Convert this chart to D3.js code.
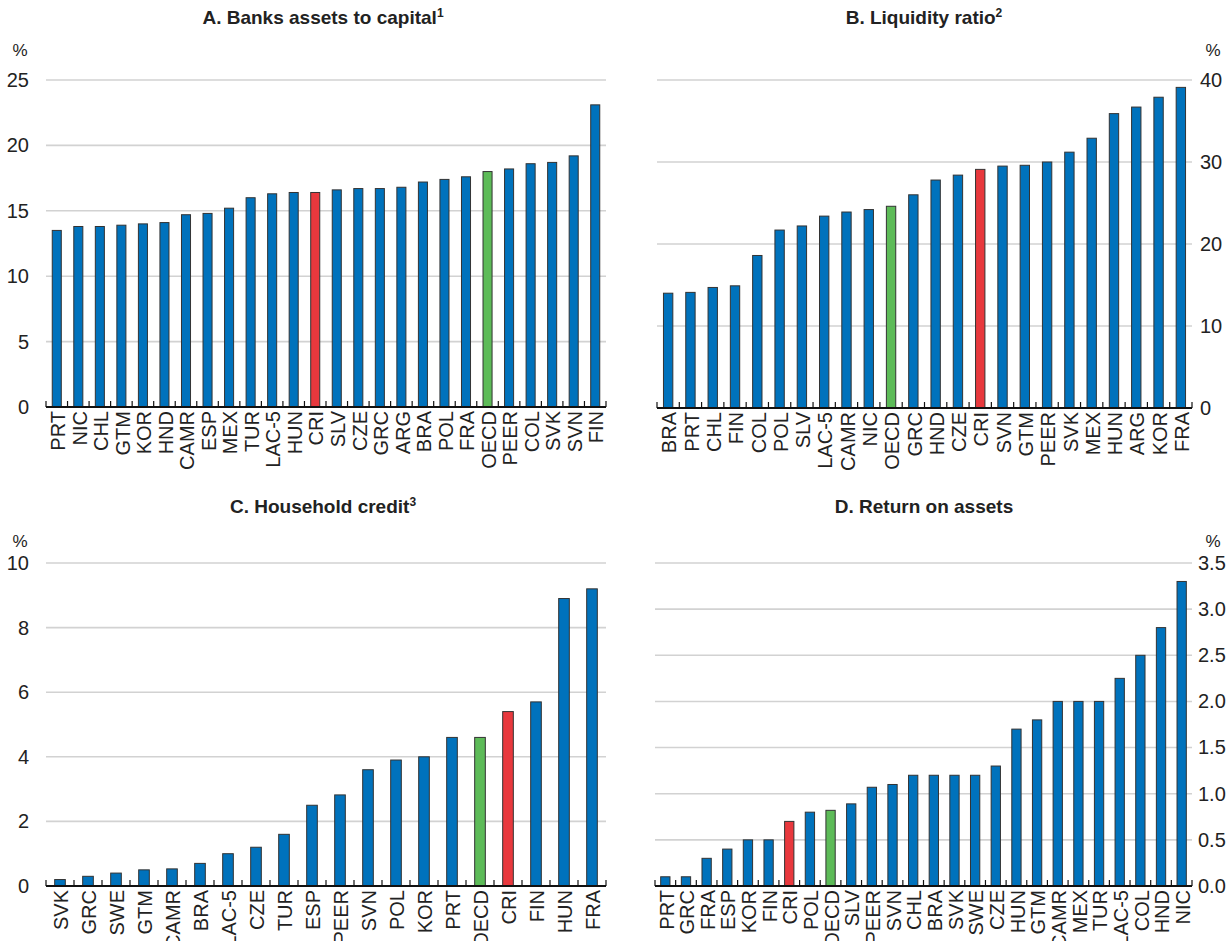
<!DOCTYPE html>
<html><head><meta charset="utf-8">
<script src="https://cdn.jsdelivr.net/npm/d3@7"></script>
<style>
body{margin:0;background:#fff}
svg{display:block}
text{font-family:"Liberation Sans Narrow","Arial Narrow","Liberation Sans",sans-serif;fill:#222}
</style>
</head><body>
<svg id="c" width="1229" height="941"></svg>
<script>
const catsA = ["PRT","NIC","CHL","GTM","KOR","HND","CAMR","ESP","MEX","TUR","LAC-5","HUN","CRI","SLV","CZE","GRC","ARG","BRA","POL","FRA","OECD","PEER","COL","SVK","SVN","FIN"];
const valsA = [13.5,13.8,13.8,13.9,14.0,14.1,14.7,14.8,15.2,16.0,16.3,16.4,16.4,16.6,16.7,16.7,16.8,17.2,17.4,17.6,18.0,18.2,18.6,18.7,19.2,23.1];
const ticksA = [0,5,10,15,20,25];

const catsB = ["BRA","PRT","CHL","FIN","COL","POL","SLV","LAC-5","CAMR","NIC","OECD","GRC","HND","CZE","CRI","SVN","GTM","PEER","SVK","MEX","HUN","ARG","KOR","FRA"];
const valsB = [14.0,14.1,14.7,14.9,18.6,21.7,22.2,23.4,23.9,24.2,24.6,26.0,27.8,28.4,29.1,29.5,29.6,30.0,31.2,32.9,35.9,36.7,37.9,39.1];
const ticksB = [0,10,20,30,40];

const catsC = ["SVK","GRC","SWE","GTM","CAMR","BRA","LAC-5","CZE","TUR","ESP","PEER","SVN","POL","KOR","PRT","OECD","CRI","FIN","HUN","FRA"];
const valsC = [0.2,0.3,0.4,0.5,0.53,0.7,1.0,1.2,1.6,2.5,2.82,3.6,3.9,4.0,4.6,4.6,5.4,5.7,8.9,9.2];
const ticksC = [0,2,4,6,8,10];

const catsD = ["PRT","GRC","FRA","ESP","KOR","FIN","CRI","POL","OECD","SLV","PEER","SVN","CHL","BRA","SVK","SWE","CZE","HUN","GTM","CAMR","MEX","TUR","LAC-5","COL","HND","NIC"];
const valsD = [0.1,0.1,0.3,0.4,0.5,0.5,0.7,0.8,0.82,0.89,1.07,1.1,1.2,1.2,1.2,1.2,1.3,1.7,1.8,2.0,2.0,2.0,2.25,2.5,2.8,3.3];
const ticksD = [0,0.5,1,1.5,2,2.5,3,3.5];

const BLUE = "#0072bc", RED = "#e8383d", GREEN = "#5dbb58";
const colorOf = c => c === "CRI" ? RED : (c === "OECD" ? GREEN : BLUE);

const svg = d3.select("#c");

function panel(o){
  const g = svg.append("g");
  const data = o.cats.map((c,i)=>({c, v:o.vals[i]}));
  const x = d3.scaleBand().domain(o.cats).range([o.x0,o.x1]).paddingInner(o.pad).paddingOuter(o.pad/2);
  const y = d3.scaleLinear().domain([0,o.max]).range([o.y0,o.y1]);

  const t = g.append("text").attr("x",o.tx).attr("y",o.ty).attr("text-anchor","middle")
    .style("font-size","19px").style("font-weight","bold");
  t.append("tspan").text(o.title);
  if(o.sup) t.append("tspan").text(o.sup).attr("dy","-7").style("font-size","12px");

  g.selectAll("line.grid").data(o.ticks.filter(d=>d>0)).join("line")
    .attr("x1",o.x0).attr("x2",o.x1).attr("y1",d=>y(d)).attr("y2",d=>y(d))
    .attr("stroke","#d2d2d2").attr("stroke-width",1.6);

  const ax = (o.right ? d3.axisRight(y) : d3.axisLeft(y)).tickValues(o.ticks).tickFormat(o.fmt).tickSize(0).tickPadding(0);
  const ag = g.append("g").attr("transform",`translate(${o.lx},0)`).call(ax);
  ag.select(".domain").remove();
  ag.selectAll("text").style("font-size","20px").style("font-family",'"Liberation Sans Narrow","Arial Narrow",sans-serif').attr("fill","#222");

  g.append("text").attr("x",o.px).attr("y",o.py).attr("text-anchor","middle").style("font-size","17px").text("%");

  g.selectAll("rect.bar").data(data).join("rect")
    .attr("x",d=>x(d.c)).attr("width",x.bandwidth())
    .attr("y",d=>y(d.v)).attr("height",d=>y(0)-y(d.v))
    .attr("fill",d=>colorOf(d.c)).attr("stroke","#333").attr("stroke-width",1);

  g.append("line").attr("x1",o.x0).attr("x2",o.x1).attr("y1",y(0)).attr("y2",y(0))
    .attr("stroke","#111").attr("stroke-width",2);
  const step = x.step();
  const bounds = o.cats.map(c=>x(c)-(step-x.bandwidth())/2).concat([o.x1]);
  g.selectAll("line.sep").data(bounds).join("line")
    .attr("x1",d=>d).attr("x2",d=>d).attr("y1",y(0)).attr("y2",y(0)-6)
    .attr("stroke","#111").attr("stroke-width",1.2);

  g.selectAll("text.cat").data(data).join("text")
    .attr("transform",d=>`translate(${x(d.c)+x.bandwidth()/2+1},${y(0)+4}) rotate(-90)`)
    .attr("text-anchor","end").attr("dy","0.36em")
    .style("font-size","20px").text(d=>d.c);
}

panel({cats:catsA, vals:valsA, ticks:ticksA, max:25, fmt:d3.format("d"),
  x0:46, x1:606, y0:407, y1:80, pad:0.58, lx:29, right:false, px:20, py:56,
  title:"A. Banks assets to capital", sup:"1", tx:323, ty:24});

panel({cats:catsB, vals:valsB, ticks:ticksB, max:40, fmt:d3.format("d"),
  x0:657, x1:1192, y0:408, y1:80, pad:0.58, lx:1200, right:true, px:1213, py:56,
  title:"B. Liquidity ratio", sup:"2", tx:924, ty:24});

panel({cats:catsC, vals:valsC, ticks:ticksC, max:10, fmt:d3.format("d"),
  x0:46, x1:606, y0:886, y1:563, pad:0.62, lx:29, right:false, px:20, py:547,
  title:"C. Household credit", sup:"3", tx:323, ty:513});

panel({cats:catsD, vals:valsD, ticks:ticksD, max:3.5, fmt:d3.format(".1f"),
  x0:655, x1:1192, y0:886, y1:563, pad:0.55, lx:1198, right:true, px:1213, py:547,
  title:"D. Return on assets", sup:null, tx:924, ty:513});
</script>
</body></html>
